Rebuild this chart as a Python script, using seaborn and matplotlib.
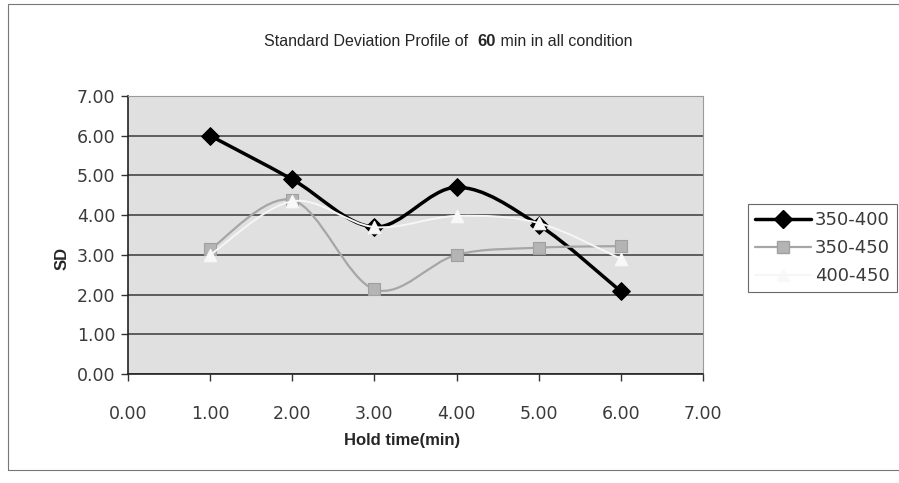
import matplotlib
matplotlib.use("Agg")
import matplotlib.pyplot as plt
import seaborn as sns
import numpy as np
import pandas as pd
from matplotlib.path import Path
from matplotlib.patches import PathPatch
from matplotlib.lines import Line2D

hold_time = [1.0, 2.0, 3.0, 4.0, 5.0, 6.0]
sd_350_400 = [6.00, 4.90, 3.70, 4.70, 3.75, 2.08]
sd_350_450 = [3.14, 4.38, 2.13, 3.00, 3.18, 3.22]
sd_400_450 = [3.00, 4.35, 3.70, 3.98, 3.80, 2.90]
series_names = ["350-400", "350-450", "400-450"]
x_ticks = [0, 1, 2, 3, 4, 5, 6, 7]
y_ticks = [0, 1, 2, 3, 4, 5, 6, 7]

df = pd.DataFrame({
    "Hold time(min)": hold_time * 3,
    "SD": sd_350_400 + sd_350_450 + sd_400_450,
    "series": [s for s in series_names for _ in hold_time],
})

sns.set_theme(style="white")
plt.rcParams["font.family"] = ["DejaVu Sans"]

fig = plt.figure(figsize=(8.99, 4.83), dpi=100)
fig.patch.set_facecolor("white")
ax = fig.add_axes([128 / 899, 1 - 374 / 483, (703 - 128) / 899, (374 - 96) / 483])
ax.set_facecolor("#e0e0e0")

styles = {
    "350-400": dict(color="black", lw=2.5, marker="D", ms=9, mfc="black", mec="black"),
    "350-450": dict(color="#a6a6a6", lw=1.6, marker="s", ms=9, mfc="#b4b4b4", mec="#a0a0a0"),
    "400-450": dict(color="#f6f6f6", lw=1.4, marker="^", ms=9, mfc="#f8f8f8", mec="#f8f8f8"),
}


def smooth_path(xs, ys):
    pts = np.column_stack([xs, ys]).astype(float)
    n = len(pts)
    verts = [pts[0]]
    codes = [Path.MOVETO]
    for i in range(n - 1):
        p0 = pts[i - 1] if i > 0 else pts[i]
        p1 = pts[i]
        p2 = pts[i + 1]
        p3 = pts[i + 2] if i + 2 < n else pts[i + 1]
        c1 = p1 + (p2 - p0) / 6.0
        c2 = p2 - (p3 - p1) / 6.0
        verts += [c1, c2, p2]
        codes += [Path.CURVE4] * 3
    return Path(verts, codes)


for k, name in enumerate(series_names):
    sub = df[df["series"] == name]
    st = styles[name]
    patch = PathPatch(smooth_path(sub["Hold time(min)"], sub["SD"]), facecolor="none",
                      edgecolor=st["color"], lw=st["lw"], zorder=3 + k)
    ax.add_patch(patch)
    sns.scatterplot(data=sub, x="Hold time(min)", y="SD", marker=st["marker"],
                    s=st["ms"] ** 2, color=st["mfc"], edgecolor=st["mec"], linewidth=0.8,
                    ax=ax, zorder=4 + k, legend=False)

ax.set_xlim(0, 7)
ax.set_ylim(0, 7)
ax.set_xticks(x_ticks)
ax.set_yticks(y_ticks)
ax.set_xticklabels([f"{v:.2f}" for v in x_ticks], fontsize=12.5, color="#3a3a3a")
ax.set_yticklabels([f"{v:.2f}" for v in y_ticks], fontsize=12.5, color="#3a3a3a")
ax.yaxis.grid(True, color="#3a3a3a", lw=1.1)
ax.xaxis.grid(False)
ax.set_axisbelow(True)
ax.tick_params(axis="both", which="both", direction="out", length=5, width=1, color="#333333",
               left=True, bottom=True, pad=4)
ax.tick_params(axis="x", pad=17)
for side in ["left", "bottom"]:
    ax.spines[side].set_color("#222222")
    ax.spines[side].set_linewidth(1.2)
for side in ["top", "right"]:
    ax.spines[side].set_color("#9a9a9a")
    ax.spines[side].set_linewidth(0.8)
    ax.spines[side].set_linestyle((0, (2, 1)))

ax.set_xlabel("Hold time(min)", fontsize=12, fontweight="bold",
              family=["Liberation Sans", "DejaVu Sans"])
ax.xaxis.set_label_coords((402 - 128) / (703 - 128), -(440 - 374) / (374 - 96))
ax.xaxis.label.set_va("center")
ax.set_ylabel("SD", fontsize=12, fontweight="bold",
              family=["Liberation Sans", "DejaVu Sans"])
ax.yaxis.set_label_coords(-(128 - 62) / (703 - 128), (374 - 258) / (374 - 96))
ax.yaxis.label.set_va("center")

# title with bold "60"
tfam = ["Liberation Sans", "DejaVu Sans"]
t1 = fig.text(264 / 899, 1 - 46 / 483, "Standard Deviation Profile of  ", fontsize=11.5,
              family=tfam, va="baseline", ha="left")
t2 = ax.annotate("60", xy=(1, 0), xycoords=t1, va="bottom", ha="left", fontsize=12,
                 fontweight="bold", family=tfam, annotation_clip=False)
t3 = ax.annotate(" min in all condition", xy=(1, 0), xycoords=t2, va="bottom", ha="left",
                 fontsize=11.5, family=tfam, annotation_clip=False)

handles = []
for name in series_names:
    st = styles[name]
    handles.append(Line2D([0], [0], color=st["color"], lw=st["lw"], marker=st["marker"],
                          ms=st["ms"], mfc=st["mfc"], mec=st["mec"]))
leg = fig.legend(handles, series_names, loc="upper left", bbox_to_anchor=(748 / 899, 1 - 204 / 483),
                 fontsize=13, frameon=True, fancybox=False, handlelength=3.1, handletextpad=0.2,
                 borderpad=0.4, labelspacing=0.55, borderaxespad=0)
leg.get_frame().set_edgecolor("#444444")
leg.get_frame().set_linewidth(0.8)
for txt in leg.get_texts():
    txt.set_color("#3a3a3a")

# outer chart border
border = plt.Rectangle((8 / 899, 1 - 470 / 483), 1.2, (470 - 4) / 483, transform=fig.transFigure,
                       fill=False, edgecolor="#777777", lw=0.8)
fig.patches.append(border)

fig.savefig("out.png", dpi=100)
